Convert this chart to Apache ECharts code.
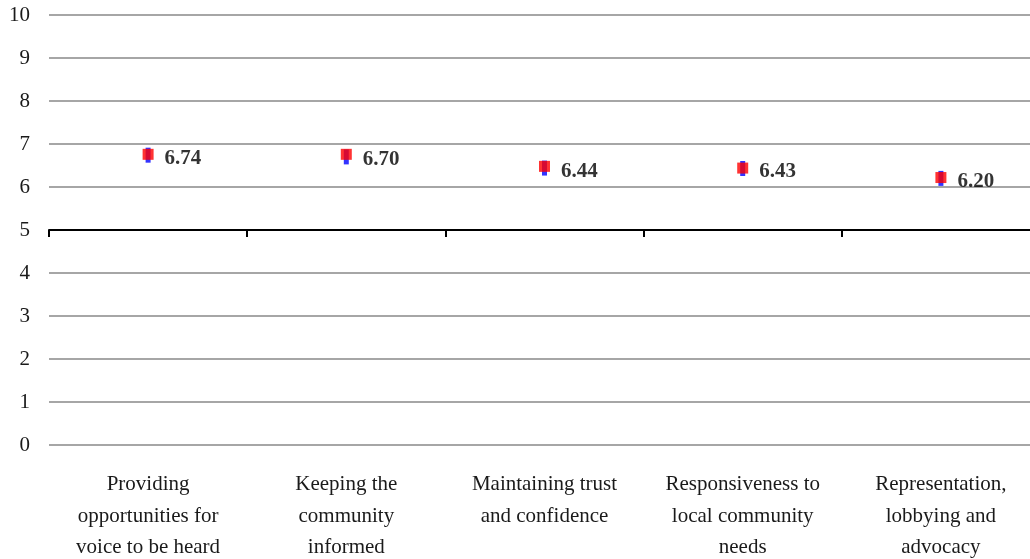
<!DOCTYPE html>
<html>
<head>
<meta charset="utf-8">
<script src="https://cdn.jsdelivr.net/npm/echarts@6/dist/echarts.min.js"></script>
<style>
  html, body { margin: 0; padding: 0; background: #ffffff; overflow: hidden; }
  #chart { width: 1030px; height: 559px; }
</style>
</head>
<body>
<div id="chart"></div>
<script>
// Service areas, rated on a 0–10 scale
const categories = [
  'Providing\nopportunities for\nvoice to be heard',
  'Keeping the\ncommunity\ninformed',
  'Maintaining trust\nand confidence',
  'Responsiveness to\nlocal community\nneeds',
  'Representation,\nlobbying and\nadvocacy'
];
// Mean scores (labelled)
const meanScores = [6.74, 6.70, 6.44, 6.43, 6.20];
// Second measure shown as red squares
const altScores = [6.76, 6.76, 6.48, 6.44, 6.22];
// Axis range
const yMin = 0, yMid = 5, yMax = 10, yStep = 1;

const serif = '"Liberation Serif", "DejaVu Serif", serif';
const gridColor = '#a6a6a6';
const plotLeft = 49, plotWidth = 991;   // plot area runs slightly past the right edge

const chart = echarts.init(document.getElementById('chart'), null, { renderer: 'canvas' });

chart.setOption({
  animation: false,
  backgroundColor: '#ffffff',
  grid: [
    { left: plotLeft, width: plotWidth, top: 15, height: 215, outerBoundsMode: 'none', containLabel: false },   // upper half 5–10
    { left: plotLeft, width: plotWidth, top: 230, height: 215, outerBoundsMode: 'none', containLabel: false }   // lower half 0–5
  ],
  xAxis: [
    {
      type: 'category', gridIndex: 0, data: categories, position: 'bottom',
      boundaryGap: true,
      axisLine: { show: true, lineStyle: { color: '#000000', width: 2 } },
      axisTick: { show: true, length: 7, lineStyle: { color: '#000000', width: 2 } },
      axisLabel: { show: false },
      splitLine: { show: false }
    },
    {
      type: 'category', gridIndex: 1, data: categories, position: 'bottom',
      boundaryGap: true,
      axisLine: { show: false },
      axisTick: { show: false },
      axisLabel: {
        show: true, interval: 0, margin: 24,
        fontFamily: serif, fontSize: 21, color: '#1a1a1a', lineHeight: 31.5, align: 'center'
      },
      splitLine: { show: false }
    }
  ],
  yAxis: [
    {
      type: 'value', gridIndex: 0, min: yMid, max: yMax, interval: yStep,
      axisLine: { show: false }, axisTick: { show: false },
      axisLabel: { fontFamily: serif, fontSize: 21, color: '#1a1a1a', margin: 19 },
      splitLine: { show: true, lineStyle: { color: gridColor, width: 2 } }
    },
    {
      type: 'value', gridIndex: 1, min: yMin, max: yMid, interval: yStep,
      axisLine: { show: false }, axisTick: { show: false },
      axisLabel: { fontFamily: serif, fontSize: 21, color: '#1a1a1a', margin: 19, showMaxLabel: false },
      splitLine: { show: true, lineStyle: { color: gridColor, width: 2 } }
    }
  ],
  series: [
    {
      type: 'scatter', xAxisIndex: 0, yAxisIndex: 0,
      data: meanScores,
      symbol: 'rect', symbolSize: [5, 15],
      itemStyle: { color: '#0000ff' },
      z: 3
    },
    {
      type: 'scatter', xAxisIndex: 0, yAxisIndex: 0,
      data: altScores,
      symbol: 'rect', symbolSize: [11, 11],
      itemStyle: { color: '#ff0000' },
      z: 4
    },
    {
      // value labels, anchored on the mean scores
      type: 'scatter', xAxisIndex: 0, yAxisIndex: 0,
      data: meanScores,
      symbol: 'rect', symbolSize: [11, 11],
      itemStyle: { color: 'rgba(0,0,0,0)' },
      label: {
        show: true, position: 'right', distance: 11, offset: [0, 3],
        formatter: p => p.value.toFixed(2),
        fontFamily: serif, fontWeight: 'bold', fontSize: 21, color: '#000000'
      },
      z: 5
    }
  ]
});
</script>
</body>
</html>
